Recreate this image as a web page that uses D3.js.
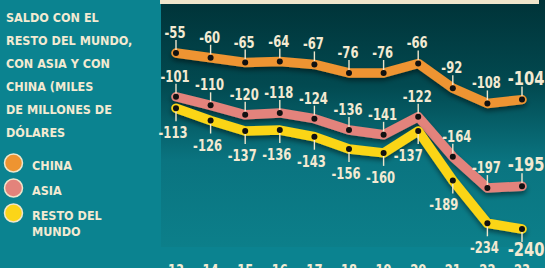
<!DOCTYPE html>
<html>
<head>
<meta charset="utf-8">
<script src="https://cdn.jsdelivr.net/npm/d3@7"></script>
<style>
  html, body { margin: 0; padding: 0; background: #0b8390; }
  svg { display: block; }
  text { font-family: "DejaVu Sans Condensed", "Liberation Sans Narrow", sans-serif; fill: #f3ead2; }
</style>
</head>
<body>
<svg id="chart"></svg>
<script>
const svgWidth = 545;
const svgHeight = 268;

// datos (miles de millones de dólares)
const years = ["13", "14", "15", "16", "17", "18", "19", "20", "21", "22", "23"];
const china = [-55, -60, -65, -64, -67, -76, -76, -66, -92, -108, -104];
const asia = [-101, -110, -120, -118, -124, -136, -141, -122, -164, -197, -195];
const resto = [-113, -126, -137, -136, -143, -156, -160, -137, -189, -234, -240];

const titleLines = ["SALDO CON EL", "RESTO DEL MUNDO,", "CON ASIA Y CON", "CHINA (MILES", "DE MILLONES DE", "DÓLARES"];
const legendNames = [["CHINA"], ["ASIA"], ["RESTO DEL", "MUNDO"]];

const colors = ["#ee9431", "#e3837b", "#fbd519"];

let svg = d3.select("#chart")
  .attr("width", svgWidth)
  .attr("height", svgHeight);

let defs = svg.append("defs");
let grad = defs.append("linearGradient")
  .attr("id", "panelGrad")
  .attr("x1", 0).attr("y1", 0).attr("x2", 0).attr("y2", 1);
grad.append("stop").attr("offset", "0%").attr("stop-color", "#003338");
grad.append("stop").attr("offset", "35%").attr("stop-color", "#024a51");
grad.append("stop").attr("offset", "65%").attr("stop-color", "#0a7480");
grad.append("stop").attr("offset", "100%").attr("stop-color", "#0c7f8a");

let shadow = defs.append("filter")
  .attr("id", "shadow")
  .attr("x", "-10%").attr("y", "-30%").attr("width", "120%").attr("height", "180%");
shadow.append("feDropShadow")
  .attr("dx", 0).attr("dy", 3)
  .attr("stdDeviation", 2.5)
  .attr("flood-color", "#000")
  .attr("flood-opacity", 0.45);

// panel
svg.append("rect")
  .attr("x", 161).attr("y", 0)
  .attr("width", svgWidth - 161).attr("height", 247)
  .attr("fill", "url(#panelGrad)");
svg.append("rect")
  .attr("x", 160).attr("y", 0)
  .attr("width", 379).attr("height", 4)
  .attr("fill", "#f0e6cc");

const x = d3.scalePoint().domain(years).range([176, 522]);
const y = d3.scaleLinear().domain([-55, -240]).range([53, 229]);

const line = d3.line()
  .x((d, i) => x(years[i]))
  .y(d => y(d));

const series = [
  { values: china, color: colors[0], pos: "above" },
  { values: asia, color: colors[1], pos: "above" },
  { values: resto, color: colors[2], pos: "below" }
];

// ajustes manuales de etiquetas
const dxFix = {
  "1-8": 4,
  "2-7": -10,
  "2-8": -9
};

series.forEach(function (s) {
  svg.append("path")
    .datum(s.values)
    .attr("d", line)
    .attr("fill", "none")
    .attr("stroke", s.color)
    .attr("stroke-width", 9.5)
    .attr("stroke-linejoin", "round")
    .attr("stroke-linecap", "round")
    .attr("filter", "url(#shadow)");
});

series.forEach(function (s, si) {
  let g = svg.append("g");
  s.values.forEach(function (v, i) {
    let px = x(years[i]);
    let py = y(v);
    let last = i === s.values.length - 1;
    let dx = dxFix[si + "-" + i];
    if (dx === undefined) dx = (si === 2) ? -3 : -1;
    if (last) dx = 4;
    let above = s.pos === "above";
    let ty = above ? py - 15 : py + (last ? 27 : 30);

    g.append("line")
      .attr("x1", px).attr("x2", px)
      .attr("y1", above ? py - 13 : py + 3)
      .attr("y2", above ? py - 3 : py + 13)
      .attr("stroke", "#f0e6cc").attr("stroke-width", 1.4);
    g.append("text")
      .attr("transform", "translate(" + (px + dx) + "," + ty + ") scale(0.86,1)")
      .attr("text-anchor", "middle")
      .attr("font-size", last ? 19 : 15)
      .attr("font-weight", "bold")
      .text(v);
    g.append("circle")
      .attr("cx", px).attr("cy", py)
      .attr("r", 3)
      .attr("fill", "#111");
  });
});

// eje x (cortado en la parte inferior)
svg.append("g")
  .selectAll("text")
  .data(years)
  .join("text")
  .attr("transform", d => "translate(" + x(d) + ",276) scale(0.86,1)")
  .attr("text-anchor", "middle")
  .attr("font-size", 15)
  .attr("font-weight", "bold")
  .text(d => d);

// título
svg.append("g")
  .selectAll("text")
  .data(titleLines)
  .join("text")
  .attr("x", 6)
  .attr("y", (d, i) => 22 + i * 23)
  .attr("font-size", 12.5)
  .attr("font-weight", "bold")
  .text(d => d);

// leyenda
let legend = svg.append("g");
legendNames.forEach(function (names, i) {
  let cy = 163 + i * 25;
  legend.append("circle")
    .attr("cx", 13.5).attr("cy", cy)
    .attr("r", 9)
    .attr("fill", colors[i])
    .attr("stroke", "#f0e6cc")
    .attr("stroke-width", 1.5);
  names.forEach(function (n, j) {
    legend.append("text")
      .attr("x", 32)
      .attr("y", cy + 7 + j * 16)
      .attr("font-size", 12.5)
      .attr("font-weight", "bold")
      .text(n);
  });
});
</script>
</body>
</html>
